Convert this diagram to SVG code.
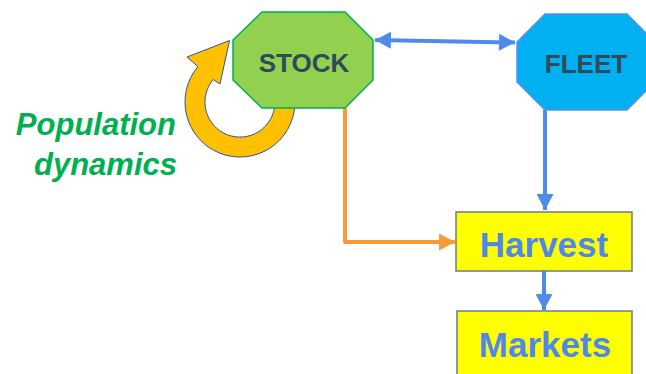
<svg xmlns="http://www.w3.org/2000/svg" width="646" height="374" viewBox="0 0 646 374">
<style>
.oct-label{font-family:"Liberation Sans",Arial,sans-serif;font-weight:bold;font-size:26px;fill:#2f4a58;text-anchor:middle}
.box{fill:#ffff00;stroke:#6b7b8c;stroke-width:1.5}
.box-label{font-family:"Liberation Sans",Arial,sans-serif;font-weight:bold;font-size:35px;fill:#4f88e8;text-anchor:middle}
.blue{stroke:#4f8be8;stroke-width:4;fill:none}
.orange{stroke:#f79a3a;stroke-width:4;fill:none;stroke-linejoin:round}
.note{font-family:"Liberation Sans",Arial,sans-serif;font-weight:bold;font-style:italic;font-size:31px;fill:#00b050;text-anchor:end}
</style>
<defs>
<marker id="ab" markerUnits="userSpaceOnUse" markerWidth="17" markerHeight="17" refX="15" refY="8" orient="auto-start-reverse" viewBox="0 0 15 16">
<path d="M0,0 L15,8 L0,16 Z" fill="#4f8be8"/>
</marker>
<marker id="ao" markerUnits="userSpaceOnUse" markerWidth="17" markerHeight="17" refX="15" refY="8" orient="auto" viewBox="0 0 15 16">
<path d="M0,0 L15,8 L0,16 Z" fill="#f79a3a"/>
</marker>
</defs>
<g id="connectors">
<line class="blue" x1="375" y1="40" x2="515" y2="42.5" marker-start="url(#ab)" marker-end="url(#ab)"/>
<line class="blue" x1="545" y1="110" x2="545" y2="210" marker-end="url(#ab)"/>
<line class="blue" x1="544" y1="271" x2="544" y2="310" marker-end="url(#ab)"/>
<polyline class="orange" points="345,108 345,242 455,242" marker-end="url(#ao)"/>
</g>
<g id="population-dynamics">
<path d="M294.9,104.9 A55,55 0 1 1 197.9,66.6 L187,57 L229.5,40.5 L220,84 L213.2,79.5 A35,35 0 1 0 274.9,103.8 Z" fill="#ffc000" stroke="#2f5597" stroke-width="1"/>
<text class="note" x="176" y="135">Population</text>
<text class="note" x="177" y="175">dynamics</text>
</g>
<g id="stock">
<polygon points="262,12 345,12 373,40 373,80 345,108 262,108 233,80 233,40" fill="#92d050" stroke="#00b050" stroke-width="1.5"/>
<text class="oct-label" x="304" y="72">STOCK</text>
</g>
<g id="fleet">
<polygon points="545,14 627,14 655,42 655,82 627,110 545,110 517,82 517,42" fill="#00b0f0" stroke="#5b8ee8" stroke-width="1.5"/>
<text class="oct-label" x="586" y="73">FLEET</text>
</g>
<g id="harvest">
<rect class="box" x="456" y="212" width="176" height="59"/>
<text class="box-label" x="544" y="257">Harvest</text>
</g>
<g id="markets">
<rect class="box" x="457" y="311" width="175" height="70"/>
<text class="box-label" x="545" y="357">Markets</text>
</g>
</svg>
